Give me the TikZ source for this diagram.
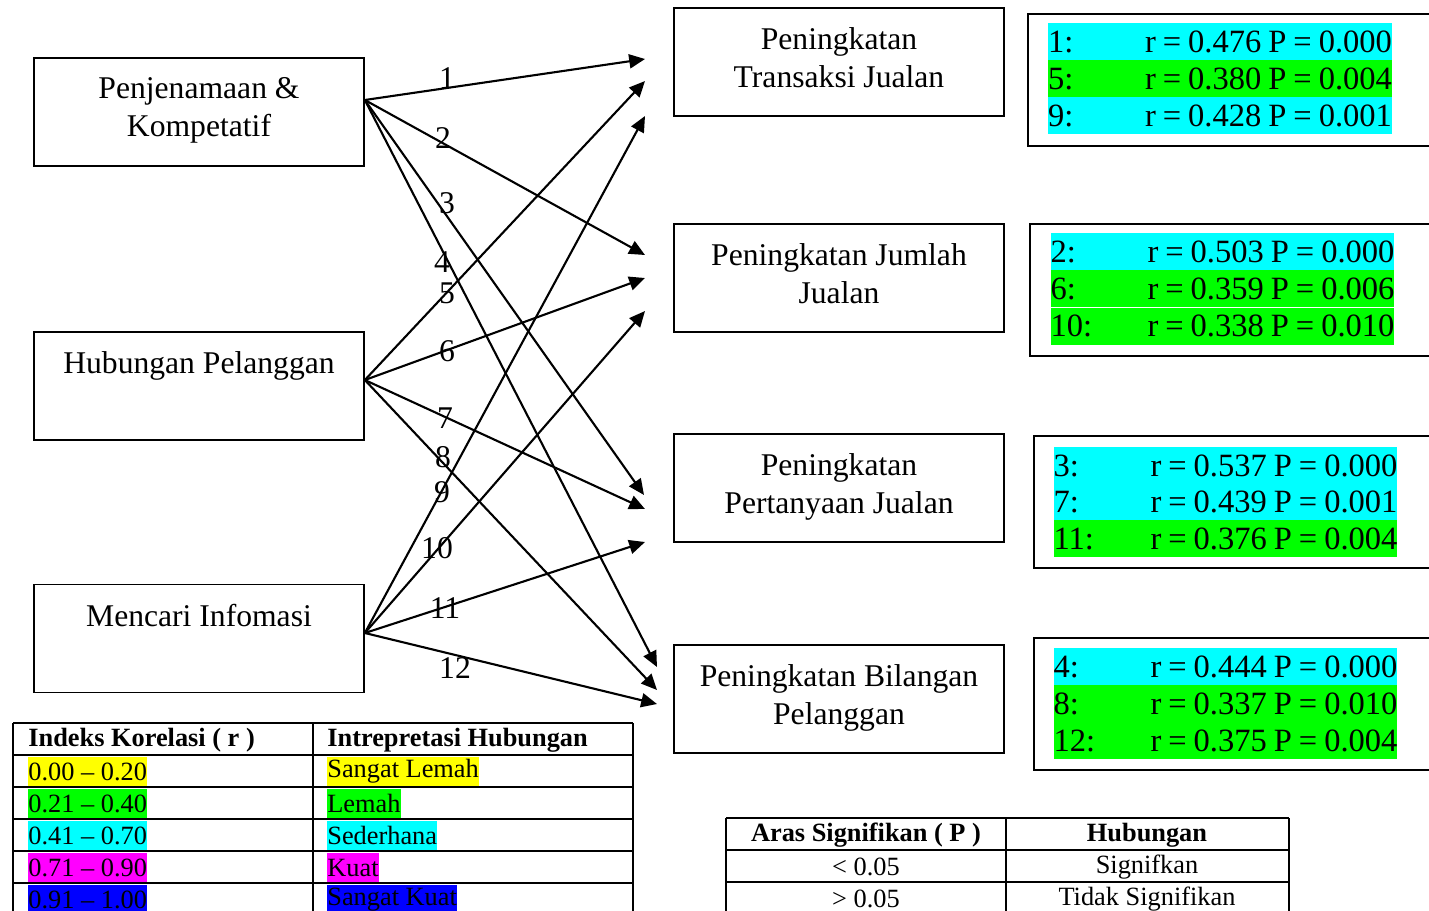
\documentclass[tikz,border=0pt]{standalone}
\usepackage{fontspec}
\setmainfont{Liberation Serif}
\usetikzlibrary{arrows.meta,positioning}
\definecolor{hlcyan}{RGB}{0,255,255}
\definecolor{hlgreen}{RGB}{0,255,0}
\definecolor{hlyellow}{RGB}{255,255,0}
\definecolor{hlmagenta}{RGB}{255,0,255}
\definecolor{hlblue}{RGB}{0,0,255}
\tikzset{
  box/.style={draw,line width=1pt,minimum width=6.6cm,minimum height=2.16cm,inner sep=0pt},
  boxtext/.style={align=center,font=\fontsize{18}{21.5}\selectfont},
  link/.style={line width=1.2pt,-{Triangle[length=9pt,width=8pt]}},
  num/.style={inner sep=0pt,font=\fontsize{18}{21.5}\selectfont},
  statbox/.style={draw,line width=1pt,minimum width=9cm,minimum height=2.64cm,anchor=north west,inner sep=0pt},
  statrow/.style={inner xsep=0pt,inner ysep=0pt,minimum height=0.74cm,text width=6.88cm,font=\fontsize{18.5}{21}\selectfont},
  hl/.style={inner sep=0pt,minimum height=0.58cm,anchor=west,font=\fontsize{15}{18}\selectfont},
  cell/.style={inner sep=0pt,font=\fontsize{15}{18}\selectfont},
  rule/.style={line width=1pt}
}
\begin{document}
\begin{tikzpicture}[x=0.02cm,y=-0.02cm]
\useasboundingbox (0,0) rectangle (1429,910);
\clip (0,0) rectangle (1429,910);
\node[box] (pk) at (199,112) {};
\node[box] (hp) at (199,386) {};
\node[box] (mi) at (199,638.5) {};
\node[boxtext,below=8pt of pk.north] (pkt) {Penjenamaan \&\\Kompetatif};
\node[boxtext,below=8pt of hp.north] (hpt) {Hubungan Pelanggan};
\node[boxtext,below=8pt of mi.north] (mit) {Mencari Infomasi};
\node[box] (tj) at (839,62) {};
\node[box] (jj) at (839,278) {};
\node[box] (pj) at (839,488) {};
\node[box] (bp) at (839,699) {};
\node[boxtext,below=8pt of tj.north] (tjt) {Peningkatan\\Transaksi Jualan};
\node[boxtext,below=8pt of jj.north] (jjt) {Peningkatan Jumlah\\Jualan};
\node[boxtext,below=8pt of pj.north] (pjt) {Peningkatan\\Pertanyaan Jualan};
\node[boxtext,below=8pt of bp.north] (bpt) {Peningkatan Bilangan\\Pelanggan};
\coordinate (spk) at ([yshift=0.24cm]pk.east);
\coordinate (shp) at ([yshift=0.12cm]hp.east);
\coordinate (smi) at ([yshift=0.11cm]mi.east);
\coordinate (t1) at (645,59);
\coordinate (t2) at (645,255);
\coordinate (t3) at (644,495);
\coordinate (t4) at (657,667);
\coordinate (t5) at (645,81);
\coordinate (t6) at (645,278);
\coordinate (t7) at (645,509);
\coordinate (t8) at (657,690);
\coordinate (t9) at (645,116);
\coordinate (t10) at (645,311);
\coordinate (t11) at (645,542);
\coordinate (t12) at (657,704);
\foreach \s/\n/\lx/\ly in {spk/1/447/78,spk/2/443/138,spk/3/447/203,spk/4/442/262,
  shp/5/447/293,shp/6/447/351,shp/7/445/418,shp/8/443/457,
  smi/9/442/492,smi/10/437/548,smi/11/445/608,smi/12/455/668}{
  \draw[link] (\s) -- (t\n);
  \node[num] (n\n) at (\lx,\ly) {\n};
}
\node[statbox] (s1) at (1027,13) {};
\node[statbox] (s2) at (1029,223) {};
\node[statbox] (s3) at (1033,435) {};
\node[statbox] (s4) at (1033,637) {};
\foreach \k/\cx/\cy/\rv/\pv/\c in {1/1220/41.5/0.476/0.000/hlcyan,5/1220/78.5/0.380/0.004/hlgreen,9/1220/115.5/0.428/0.001/hlcyan,
  2/1222.5/251.5/0.503/0.000/hlcyan,6/1222.5/288.5/0.359/0.006/hlgreen,10/1222.5/326/0.338/0.010/hlgreen,
  3/1225.5/465.5/0.537/0.000/hlcyan,7/1225.5/502/0.439/0.001/hlcyan,11/1225.5/538.5/0.376/0.004/hlgreen,
  4/1225.5/666.5/0.444/0.000/hlcyan,8/1225.5/703.5/0.337/0.010/hlgreen,12/1225.5/740.5/0.375/0.004/hlgreen}
  \node[statrow,fill=\c] (row\k) at (\cx,\cy) {\k:\hfill\mbox{\spaceskip=4pt r = \rv{} P = \pv}};
\foreach \y in {723,755,...,883} \draw[rule] (13,\y) -- (633,\y);
\foreach \x in {13,313,633} \draw[rule] (\x,723) -- (\x,915);
\node[cell,anchor=west,font=\fontsize{15}{18}\selectfont\bfseries] (k0) at (28,740) {Indeks Korelasi ( r )};
\node[cell,anchor=west,font=\fontsize{15}{18}\selectfont\bfseries] (h0) at (327,740) {Intrepretasi Hubungan};
\foreach \a/\b/\c [count=\i] in {0.00 -- 0.20/Sangat Lemah/hlyellow,0.21 -- 0.40/Lemah/hlgreen,
  0.41 -- 0.70/Sederhana/hlcyan,0.71 -- 0.90/Kuat/hlmagenta,0.91 -- 1.00/Sangat Kuat/hlblue}{
  \node[hl,fill=\c] (k\i) at (28,{739.5+32*\i}) {\a};
  \node[hl,fill=\c] (h\i) at (327,{739.5+32*\i}) {\b};
}
\foreach \y in {818,850,882} \draw[rule] (726,\y) -- (1289,\y);
\foreach \x in {726,1006,1289} \draw[rule] (\x,818) -- (\x,915);
\node[cell,font=\fontsize{15}{18}\selectfont\bfseries] (ap) at (866,835) {Aras Signifikan ( P )};
\node[cell,font=\fontsize{15}{18}\selectfont\bfseries] (hb) at (1147,835) {Hubungan};
\node[cell] (lt) at (866,867) {< 0.05};
\node[cell] (sg) at (1147,867) {Signifkan};
\node[cell] (gt) at (866,899) {> 0.05};
\node[cell] (ts) at (1147,899) {Tidak Signifikan};
\end{tikzpicture}
\end{document}
